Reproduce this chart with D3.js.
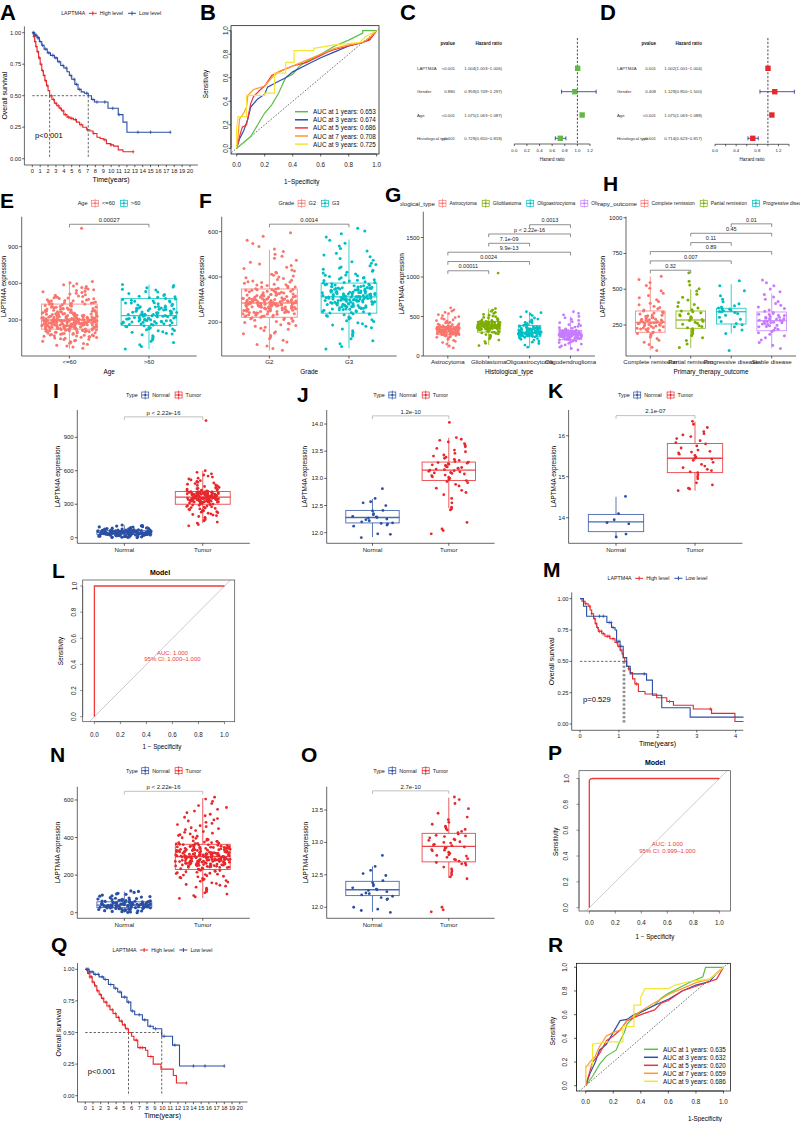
<!DOCTYPE html>
<html><head><meta charset="utf-8">
<script src="https://cdn.jsdelivr.net/npm/d3@7/dist/d3.min.js"></script>
<style>
html,body{margin:0;padding:0;background:#fff;}
svg{display:block;}
text{font-family:"Liberation Sans",Arial,Helvetica,sans-serif;}
</style></head>
<body><svg id="fig" width="800" height="1122" viewBox="0 0 800 1122"></svg>
<script>
// ================= DATA =================
// --- A: KM (years) ---
const kmA_high_t = [0,0.15,0.3,0.45,0.6,0.8,1.0,1.2,1.4,1.6,1.8,2.0,2.2,2.5,2.8,3.1,3.4,3.7,4.0,4.4,4.8,5.2,5.6,6.0,6.4,6.9,7.3,7.7,8.2,8.6,9.0,9.4,9.9,10.3,10.9,11.5,12.8];
const kmA_high_s = [1,0.97,0.93,0.89,0.85,0.80,0.75,0.70,0.66,0.62,0.58,0.54,0.50,0.47,0.44,0.42,0.40,0.38,0.35,0.33,0.32,0.31,0.29,0.27,0.25,0.23,0.22,0.20,0.17,0.16,0.15,0.12,0.11,0.10,0.07,0.055,0.055];
const kmA_high_c = [0.2,0.35,0.5,0.7,0.9,1.1,1.3,1.5,1.7,1.9,2.4,2.7,3.0,3.3,3.6,3.9,4.2,4.6,5.0,5.5,6.2,7.0,7.8,9.2,10.0,12.8];
const kmA_low_t = [0,0.3,0.6,0.9,1.2,1.5,1.9,2.3,2.8,3.2,3.6,4.0,4.4,4.7,5.0,5.4,5.8,6.2,6.6,7.1,7.5,7.9,9.6,10.9,11.5,12.0,17.5];
const kmA_low_s = [1,0.98,0.96,0.93,0.90,0.87,0.84,0.82,0.80,0.77,0.74,0.72,0.69,0.66,0.63,0.59,0.55,0.53,0.52,0.50,0.47,0.45,0.40,0.35,0.29,0.21,0.21];
const kmA_low_c = [0.1,0.2,0.4,0.5,0.7,0.8,1.0,1.3,1.7,2.1,2.6,3.0,3.4,3.9,4.3,4.9,5.3,5.6,6.0,6.9,7.7,8.2,9.2,10.2,11.0,13.4,15.0,17.5];
const kmA_medians = [2.2, 7.1];
// --- M: KM ---
const kmM_high_t = [0,0.05,0.13,0.21,0.26,0.30,0.35,0.39,0.43,0.47,0.56,0.64,0.77,0.90,0.97,1.03,1.08,1.11,1.15,1.20,1.25,1.29,1.35,1.41,1.50,1.67,1.97,2.23,2.40,2.91,3.38,3.98,4.2];
const kmM_high_s = [1,0.98,0.96,0.94,0.91,0.88,0.84,0.80,0.77,0.74,0.72,0.70,0.68,0.65,0.62,0.59,0.56,0.53,0.50,0.46,0.44,0.41,0.36,0.32,0.26,0.24,0.21,0.18,0.15,0.12,0.085,0.02,0.02];
const kmM_high_c = [0.15,0.25,0.3,0.38,0.42,0.45,0.5,0.55,0.6,0.7,0.75,0.85,0.95,1.0,1.05,1.25,1.45,2.3,3.35];
const kmM_low_t = [0,0.09,0.17,0.60,0.69,0.81,0.90,0.94,1.03,1.11,1.20,1.29,1.71,1.86,2.10,2.83,4.2];
const kmM_low_s = [1,0.94,0.86,0.86,0.81,0.77,0.75,0.66,0.62,0.53,0.46,0.40,0.35,0.23,0.13,0.055,0.055];
const kmM_low_c = [0.5,0.6,0.75,0.8,0.85,1.0,1.05,1.65];
const kmM_medians = [1.11, 1.15];
// --- Q: KM ---
const kmQ_high_t = [0,0.3,0.6,0.9,1.2,1.5,1.8,2.1,2.4,2.8,3.2,3.6,4.0,4.4,4.8,5.2,5.6,6.0,6.3,6.8,7.8,8.1,8.8,9.8,11.4,11.8,13.1];
const kmQ_high_s = [1,0.97,0.94,0.90,0.87,0.83,0.80,0.77,0.74,0.71,0.68,0.65,0.62,0.59,0.56,0.53,0.50,0.47,0.44,0.38,0.36,0.31,0.25,0.21,0.16,0.10,0.10];
const kmQ_high_c = [0.2,0.4,0.6,0.8,1.0,1.3,1.6,2.0,2.3,2.7,3.1,3.5,3.9,4.3,4.7,5.1,5.4,6.6,7.1,7.4,8.5,13.1];
const kmQ_low_t = [0,0.5,1.1,1.8,2.4,3.0,3.7,4.2,4.7,5.4,5.9,6.4,7.4,8.1,8.8,9.9,11.3,12.2,18.0];
const kmQ_low_s = [1,0.98,0.96,0.94,0.92,0.88,0.85,0.82,0.78,0.74,0.67,0.64,0.60,0.55,0.53,0.47,0.40,0.235,0.235];
const kmQ_low_c = [0.2,0.4,0.6,0.9,1.3,1.7,2.2,2.6,3.3,3.9,4.5,5.1,5.6,6.1,7.0,7.7,8.4,9.1,10.2,11.6,14.0,15.5,18.0];
const kmQ_medians = [5.6, 9.9];
const kmTicks20 = d3.range(0,21);
const kmGroupLabels = ["High level","Low level"];

// --- B: time ROC ---
const rocB_labels = ["AUC at 1 years: 0.653","AUC at 3 years: 0.674","AUC at 5 years: 0.686","AUC at 7 years: 0.708","AUC at 9 years: 0.725"];
const rocB_fpr = [
 [0,0.05,0.1,0.15,0.2,0.25,0.3,0.33,0.35,0.4,0.45,0.5,0.55,0.6,0.7,0.8,0.9,0.9,1],
 [0,0.02,0.05,0.08,0.1,0.15,0.2,0.22,0.3,0.35,0.4,0.5,0.6,0.7,0.8,0.9,0.95,1],
 [0,0.02,0.04,0.07,0.1,0.12,0.17,0.2,0.25,0.3,0.4,0.5,0.6,0.65,0.7,0.8,0.9,0.95,1],
 [0,0.01,0.02,0.05,0.07,0.08,0.12,0.2,0.25,0.3,0.4,0.5,0.6,0.7,0.8,0.9,0.95,1],
 [0,0,0.01,0.07,0.07,0.2,0.2,0.27,0.27,0.35,0.35,0.41,0.41,0.55,0.55,0.7,0.88,0.92,1]];
const rocB_tpr = [
 [0,0.05,0.1,0.2,0.3,0.37,0.47,0.55,0.6,0.63,0.7,0.74,0.77,0.8,0.87,0.92,0.98,1,1],
 [0,0.08,0.15,0.25,0.35,0.42,0.46,0.52,0.57,0.6,0.65,0.71,0.77,0.82,0.87,0.9,0.93,1],
 [0,0.1,0.18,0.2,0.38,0.44,0.5,0.53,0.62,0.65,0.7,0.73,0.79,0.82,0.84,0.87,0.9,0.92,1],
 [0,0.1,0.25,0.3,0.35,0.45,0.5,0.53,0.6,0.65,0.7,0.75,0.8,0.85,0.88,0.9,0.94,1],
 [0,0.17,0.27,0.27,0.45,0.45,0.47,0.47,0.64,0.64,0.73,0.73,0.83,0.83,0.85,0.88,0.9,0.95,1]];
// --- R: time ROC ---
const rocR_labels = ["AUC at 1 years: 0.635","AUC at 3 years: 0.632","AUC at 5 years: 0.620","AUC at 7 years: 0.659","AUC at 9 years: 0.686"];
const rocR_fpr = [
 [0,0.05,0.1,0.15,0.22,0.25,0.28,0.3,0.35,0.4,0.45,0.5,0.55,0.6,0.7,0.75,0.85,0.87,1],
 [0,0.03,0.07,0.1,0.15,0.2,0.25,0.3,0.35,0.4,0.5,0.6,0.7,0.8,0.9,0.95,1],
 [0,0.05,0.1,0.15,0.2,0.25,0.3,0.4,0.5,0.55,0.6,0.7,0.8,0.9,0.95,1],
 [0,0,0.03,0.07,0.1,0.15,0.2,0.25,0.3,0.4,0.5,0.6,0.7,0.8,0.9,1],
 [0,0,0.05,0.05,0.15,0.27,0.27,0.35,0.35,0.4,0.4,0.43,0.6,0.65,0.75,0.9,0.95,1]];
const rocR_tpr = [
 [0,0.08,0.18,0.25,0.3,0.38,0.45,0.52,0.58,0.62,0.65,0.68,0.74,0.78,0.84,0.87,0.92,1,1],
 [0,0.1,0.2,0.3,0.35,0.45,0.55,0.56,0.6,0.62,0.68,0.73,0.8,0.85,0.88,0.95,1],
 [0,0.2,0.27,0.38,0.42,0.47,0.55,0.6,0.64,0.7,0.72,0.8,0.84,0.88,0.9,1],
 [0,0.15,0.2,0.25,0.33,0.42,0.45,0.47,0.55,0.63,0.7,0.77,0.82,0.87,0.9,1],
 [0,0.17,0.17,0.35,0.37,0.37,0.5,0.5,0.68,0.68,0.75,0.82,0.82,0.85,0.88,0.9,0.95,1]];
const rocColors = ["#5cbf47","#2a4fae","#f0323c","#ff9a2a","#f4e535"];

// --- L / P: diagnostic ROC ---
const rocL_fpr = [0,0,1];
const rocL_tpr = [0,1,1];
const rocP_fpr = [0,0,0.01,0.03,1];
const rocP_tpr = [0,0.985,0.997,1,1];
const rocL_text = ["AUC: 1.000","95% CI: 1.000\u20131.000"];
const rocP_text = ["AUC: 1.000","95% CI: 0.999\u20131.000"];

// --- C / D: forest ---
const forestNames = ["LAPTM4A","Gender","Age","Histological type"];
const forestC_p  = ["<0.001","0.880","<0.001","<0.001"];
const forestC_hr = [1.004,0.959,1.075,0.729];
const forestC_lo = [1.003,0.749,1.063,0.650];
const forestC_hi = [1.006,1.297,1.087,0.818];
const forestD_p  = ["0.001","0.408","<0.001","<0.001"];
const forestD_hr = [1.002,1.129,1.075,0.714];
const forestD_lo = [1.001,0.850,1.063,0.623];
const forestD_hi = [1.004,1.500,1.088,0.817];

// --- E: Age ---
const catsE = ["<=60",">60"];
const statsE = [[65,225,300,430,615],[62,255,335,475,590]]; // whiskerLo,Q1,median,Q3,whiskerHi
const ptsE_le60 = [68,79,88,93,101,107,110,118,121,127,131,134,140,143,147,150,153,157,159,162,163,166,169,171,172,175,177,178,181,183,184,187,189,190,193,195,196,199,200,203,205,206,208,211,212,214,215,217,219,220,222,223,225,227,228,230,231,233,234,236,237,239,241,242,243,245,246,248,249,251,252,254,255,256,258,260,261,263,264,266,267,268,270,271,273,274,276,277,279,280,281,283,284,286,287,289,290,291,292,294,295,297,298,299,300,302,304,305,307,309,310,312,314,316,318,319,321,323,325,327,328,330,333,335,336,338,341,343,344,347,349,350,353,355,357,359,362,364,366,368,370,373,375,377,380,383,385,388,390,393,395,398,401,404,406,410,413,416,419,422,425,428,431,433,437,439,442,445,448,450,454,457,459,463,466,469,473,476,479,482,486,490,493,497,502,507,512,519,524,531,536,542,548,553,560,566,573,579,588,596,604,615,1050,
 296,312,275,338,259,301,322,244,287,351,268,309,233,294,378,255,317,282,340,226,303,266,392,248,289,327,271,356,238,306,279,415,262,298,333,251,285,372,219,310,293,347,240,276,321,264,405,229,300,287,336,253,316,273,362,245,291,328,270,441,235,305,281,345,258,297,318,212,284,367,249,302,277,331,265,458,223,292,313,286];
const ptsE_gt60 = [62,84,97,116,126,141,150,163,171,179,186,191,199,203,211,214,221,226,229,236,239,245,248,253,256,259,263,265,269,272,274,278,281,284,286,290,293,296,299,301,305,308,310,314,317,320,324,327,330,334,338,341,345,348,352,355,360,363,366,370,374,377,381,385,388,392,396,399,404,407,411,415,419,423,428,433,438,442,447,453,458,461,467,472,476,481,486,491,495,500,509,516,528,534,545,551,563,570,582,591,
 318,342,296,361,277,334,389,305,352,284,371,326,409,291,347,312,438,268,336,359,302,382,321,455,288,344,366,309,398,331];
// --- F: Grade ---
const catsF = ["G2","G3"];
const statsF = [[75,222,285,347,520],[85,240,312,373,565]];
const ptsF_G2 = [76,84,95,102,113,121,128,136,142,149,153,158,164,169,173,178,182,186,189,193,196,199,203,206,209,212,215,217,220,222,224,226,228,231,233,235,237,239,241,243,245,247,249,251,253,255,256,258,260,262,264,266,268,270,271,273,275,277,279,280,282,284,286,288,290,292,294,296,298,300,302,304,306,308,310,312,314,316,318,320,322,324,327,329,331,333,335,337,339,341,343,345,347,350,353,356,359,362,365,368,372,375,378,382,385,389,393,396,400,404,408,412,417,421,426,431,437,443,450,457,465,474,483,491,500,512,523,534,548,562,580,595,
 262,291,238,305,276,251,318,284,229,297,266,341,244,288,312,273,257,330,281,236,299,268,356,247,290,322,275,259,304,283,218,294,271,337,253,286,314,264,243,301,279,366,256,292,325,269,248,308,285,231,296,274,348,261,289,319,277,252,303,282,205,295,267,333,246,287,316,272,258,300,280,379,241,293,324,270,254,306,283,226,298,276,345,263,291,311,279,249,302,286];
const ptsF_G3 = [82,93,105,118,127,139,147,156,163,170,176,182,188,193,198,203,207,211,215,219,223,226,230,233,236,238,241,243,246,248,251,253,256,258,261,263,266,268,271,273,276,278,281,283,286,288,291,293,296,298,301,303,306,308,310,312,314,316,318,320,322,325,327,329,331,333,336,338,340,342,345,347,349,351,354,356,358,361,363,365,368,370,373,376,379,382,385,388,391,395,398,402,405,409,413,417,421,425,430,434,439,444,449,455,461,467,474,481,489,497,505,515,526,537,549,562,576,591,603,615,
 289,318,264,334,301,277,352,311,255,326,296,368,282,315,341,299,270,357,308,285,329,293,384,274,320,346,303,262,337,311,248,323,297,361,280,316,343,294,268,331,306,396,276,319,350,300,259,339,313,287,325,304,375,283,317,347,298,271,334,309,236,322,292,358,279,314,344,296,265,330,305,407,273,318,349,301,257,336,312,289,327,303,366,284,315,353,297,269,332,308];
// --- G: Histological type ---
const catsG = ["Astrocytoma","Glioblastoma","Oligoastrocytoma","Oligodendroglioma"];
const statsG = [[100,270,332,374,530],[140,303,383,437,600],[110,248,299,387,560],[75,207,270,324,500]];
const ptsG_astro = [102,128,151,170,186,199,210,219,228,236,242,248,253,258,262,266,269,272,275,278,281,284,287,290,293,296,299,302,305,308,311,314,317,320,323,326,329,331,333,335,337,339,341,343,345,347,349,351,353,355,357,359,361,363,365,367,369,371,373,376,380,384,388,392,397,402,407,413,419,425,432,440,448,457,466,476,487,498,510,523,537,552,568,585,610,
 318,341,297,356,325,284,362,331,306,349,290,337,368,312,279,345,322,358,301,334,287,352,316,340,295,363,327,304,348,282,333,359,310,343,293,326,355,319,300,338,286,347,323,361,308,330,296,351,314,344];
const ptsG_glio = [132,160,183,202,218,231,243,254,263,271,279,286,292,298,302,306,310,314,318,322,326,330,334,338,342,346,350,354,358,362,366,370,374,378,381,384,387,390,393,396,399,402,405,408,411,414,417,420,423,426,429,432,435,437,441,446,451,456,462,468,474,481,489,497,506,516,527,539,552,566,582,600,1050,
 368,392,347,405,381,356,418,374,339,396,385,362,427,378,351,409,388,366,432,371,344,400,383,359,415,376,352,393,386,364,421,373,348,403,390,361,429,377,355,398,384,367,412,370,342,395,387,358,424,380];
const ptsG_oligoastro = [112,138,158,175,189,201,212,221,229,236,242,247,251,255,259,263,267,271,275,279,283,287,291,295,298,301,305,309,313,317,321,326,331,336,341,346,351,356,361,366,371,376,381,386,391,397,403,410,418,426,435,445,456,468,481,496,512,530,548,560,
 286,312,268,337,295,275,351,306,261,324,290,279,368,301,257,342,298,272,316,288,264,357,303,281,329,293,270,346,309,284,255,333,297,277,362,305,266,321,291,274];
const ptsG_oligodendro = [76,95,112,127,140,151,161,170,178,185,191,197,202,206,209,212,216,219,223,226,230,233,237,240,244,247,251,254,258,261,265,268,271,274,277,280,283,286,289,292,295,298,301,304,307,310,313,316,319,322,326,331,337,343,350,358,366,375,385,396,408,421,435,450,466,483,501,520,540,560,
 262,281,243,296,268,251,305,274,236,288,259,247,311,270,229,292,264,255,318,277,240,285,261,249,300,272,233,290,266,253,314,279,238,283,258,245,307,268,226,294,263,250,320,275,241,287,260,248,303,271];
// --- H: Primary therapy outcome ---
const catsH = ["Complete remission","Partial remission","Progressive disease","Stable disease"];
const statsH = [[72,199,269,348,590],[90,227,285,348,500],[190,257,343,367,535],[88,210,280,341,470]];
const ptsH_cr = [72,95,114,130,144,156,166,175,183,190,196,201,207,213,219,225,231,237,243,249,255,261,265,268,271,275,280,285,290,296,302,308,314,320,327,334,341,347,355,363,372,381,391,402,414,427,441,456,472,489,507,526,547,568,590,
 258,283,231,301,266,245,318,274,222,290,262,336,241,279,305,253,287,227,268,311];
const ptsH_pr = [92,118,141,160,177,191,203,214,223,231,239,247,255,262,269,276,282,288,294,300,307,314,321,328,335,342,348,357,368,380,393,408,425,444,465,488,503,530,555,615];
const ptsH_pd = [72,190,215,238,252,260,275,290,305,318,330,338,342,345,350,355,360,364,368,375,385,398,412,430,455,490,525,560];
const ptsH_sd = [86,108,128,146,161,174,186,196,205,213,221,229,237,245,253,261,268,274,279,283,288,293,298,304,310,317,324,331,338,346,355,365,376,388,401,415,430,446,463,482,502,524,546,565,
 266,292,248,304,275,257,318,283,239,297,270,325];
// --- I/J/K/N/O: Normal vs Tumor ---
const catsNT = ["Normal","Tumor"];
const statsI = [[0,30,48,63,112],[130,300,363,414,600]];
const ptsI_normal = [1,3,4,6,8,9,11,12,14,15,16,18,19,20,21,22,23,24,25,26,26,27,28,29,30,30,31,32,33,33,34,35,35,36,37,37,38,39,39,40,41,41,42,42,43,44,44,45,45,46,47,47,48,48,49,49,50,51,51,52,52,53,54,54,55,56,56,57,58,58,59,60,61,61,62,63,64,65,66,67,68,69,70,71,73,74,76,78,80,82,85,88,91,95,99,104,109,114,2,7,13,17,24,29,34,38,43,46,50,53,57,62,66,72,79,87,97,107,36,44,51,59,31,48];
const ptsI_tumor = [106,118,131,140,152,160,168,176,183,190,197,203,208,214,219,224,229,233,238,242,246,250,254,258,262,266,270,273,277,280,284,287,290,293,296,299,301,303,305,307,310,312,314,316,318,320,322,324,326,328,330,332,334,336,338,340,342,344,346,348,350,352,354,356,358,360,362,364,366,368,370,372,374,376,378,380,382,384,386,388,390,392,394,396,398,400,402,404,406,408,410,412,414,417,420,423,426,429,432,436,439,443,447,451,455,459,464,469,474,479,485,491,497,504,511,518,526,534,543,552,562,573,586,600,1050,
 352,378,331,396,365,342,407,359,318,385,348,372,337,401,362,326,389,355,343,410,368,334,381,351,322,394,361,346,375,339,403,357,329,387,364,349,412,371,336,383,356,324,398,367,344,379,353,331,405,362,340,388,358,327,392,369,347,376,335,400];
const statsJ = [[11.92,12.18,12.28,12.41,12.62],[12.45,12.96,13.15,13.30,13.75]];
const ptsJ_normal = [12.81,12.63,12.57,12.55,12.50,12.41,12.40,12.35,12.33,12.30,12.29,12.28,12.27,12.25,12.24,12.22,12.20,12.18,12.17,12.16,12.14,12.12,11.98,11.97,11.91];
const ptsJ_tumor = [11.98,12.04,12.07,12.19,12.42,12.44,12.47,12.55,12.63,12.70,12.74,12.78,12.82,12.86,12.89,12.92,12.94,12.96,12.98,13.00,13.02,13.03,13.05,13.06,13.08,13.09,13.10,13.11,13.12,13.13,13.14,13.15,13.16,13.17,13.18,13.19,13.20,13.21,13.22,13.23,13.24,13.25,13.26,13.27,13.28,13.29,13.30,13.31,13.33,13.35,13.37,13.39,13.41,13.43,13.46,13.49,13.52,13.55,13.58,13.61,13.64,13.67,13.70,13.72,13.75,14.03];
const statsK = [[13.55,13.66,13.90,14.08,14.51],[14.66,15.10,15.45,15.81,16.34]];
const ptsK_normal = [14.52,14.10,13.95,13.88,13.85,13.60,13.53];
const ptsK_tumor = [14.66,14.70,14.72,14.80,14.85,14.95,15.00,15.05,15.10,15.12,15.15,15.18,15.22,15.26,15.30,15.35,15.40,15.43,15.45,15.48,15.52,15.55,15.58,15.60,15.62,15.65,15.70,15.75,15.80,15.83,15.88,15.93,15.98,16.02,16.05,16.10,16.20,16.28,16.35];
const statsN = [[0,27,40,58,112],[77,230,299,364,610]];
const ptsN_normal = [0,2,5,7,9,10,12,14,15,17,18,19,21,22,23,24,25,26,27,28,28,29,30,31,31,32,33,34,34,35,36,36,37,38,38,39,39,40,41,41,42,42,43,43,44,45,45,46,47,47,48,49,49,50,51,52,53,54,55,56,57,58,59,60,61,62,63,64,66,67,69,71,73,75,77,80,83,86,90,94,98,103,108,113,116,4,11,16,20,26,30,35,40,44,48,52,58,65,70,78,88,100,33,39,46,54];
const ptsN_tumor = [76,84,91,99,106,112,119,124,130,136,141,146,150,155,159,163,167,171,175,178,182,185,188,191,194,197,200,203,205,208,210,213,215,218,220,222,224,226,228,230,232,234,236,238,240,242,243,245,247,249,250,252,254,255,257,259,260,262,264,265,267,269,270,272,273,275,277,278,280,281,283,285,286,288,289,291,292,294,296,297,299,300,302,304,305,307,309,310,312,314,315,317,319,320,322,324,326,327,329,331,333,335,336,338,340,342,344,346,348,350,352,354,356,358,360,362,364,367,370,373,376,379,382,385,389,392,396,399,403,407,411,415,419,423,428,432,437,442,447,452,458,463,469,475,481,488,494,501,508,516,524,532,541,550,560,570,581,593,605,615,
 288,315,262,331,297,276,344,305,251,322,283,359,268,311,294,338,279,246,326,301,271,352,289,318,260,335,296,274,347,308,255,329,285,366,266,313,299,241,340,281,320,292,373,263,306,278,349,297,257,324,286,312,269,343,301,248,331,284,361,274,316,293,253,337,289,380,266,309,282,344,298,259,321,287,354,272,314,295,243,335,280,305,262,347,291,318,276,328,256,339,284,302,269,357,293,311,279,249,325,288,342,273,307,296,264,333,282,369,297,313];
const statsO = [[11.93,12.18,12.27,12.40,12.63],[12.45,12.70,12.94,13.14,13.69]];
const ptsO_normal = [12.80,12.63,12.57,12.52,12.49,12.41,12.38,12.35,12.33,12.30,12.28,12.27,12.26,12.24,12.22,12.21,12.19,12.17,12.15,12.13,12.12,12.00,11.97,11.92,11.95];
const ptsO_tumor = [11.93,11.96,12.00,12.44,12.47,12.50,12.53,12.56,12.59,12.62,12.65,12.67,12.69,12.71,12.73,12.75,12.77,12.79,12.81,12.83,12.85,12.87,12.89,12.91,12.93,12.95,12.97,12.99,13.01,13.03,13.05,13.07,13.09,13.11,13.13,13.15,13.17,13.19,13.21,13.23,13.25,13.28,13.31,13.35,13.39,13.45,13.52,13.60,13.66,13.70,12.88,12.92,12.96,13.00,13.04,13.10,12.74,12.80,12.68,13.20];

// ================= DRAWING =================
const svg = d3.select("#fig");
svg.append("rect").attr("width",800).attr("height",1122).attr("fill","#fff");
const RED = "#e8272b", BLUE = "#2a4fa3";
const GG2 = ["#F8766D","#00BFC4"], GG4 = ["#F8766D","#7CAE00","#00BFC4","#C77CFF"];

function T(g,x,y,s,o={}){
  const t=g.append("text").attr("x",x).attr("y",y).text(s)
    .attr("font-size",o.size||6).attr("fill",o.fill||"#1a1a1a")
    .attr("text-anchor",o.anchor||"middle").attr("dominant-baseline",o.base||"central");
  if(o.weight) t.attr("font-weight",o.weight);
  if(o.rotate) t.attr("transform",`rotate(${o.rotate},${x},${y})`);
  return t;
}
function spread(k,j){ // deterministic horizontal jitter layout for points
  const s=Math.sin((j+1)*12.9898+(k+1)*78.233)*43758.5453; return (s-Math.floor(s))*2-1;
}
function label(letter,x,y,size){ T(svg,x,y,letter,{size:size||21,weight:"bold",anchor:"start",base:"auto",fill:"#000"}); }

function legend(g,o){
  const lg=g.append("g");
  const size=o.size||5.4;
  const tt=T(lg,0,o.y,o.title,{size:o.titleSize||size,anchor:"start"});
  const tw=tt.node().getComputedTextLength();
  let cur=tw+4;
  o.labels.forEach((lab,i)=>{
    const gx=cur+3.5, c=o.colors[i];
    if(o.glyph==="km"){
      lg.append("line").attr("x1",gx-4).attr("x2",gx+4).attr("y1",o.y).attr("y2",o.y).attr("stroke",c).attr("stroke-width",1);
      lg.append("line").attr("x1",gx).attr("x2",gx).attr("y1",o.y-2).attr("y2",o.y+2).attr("stroke",c).attr("stroke-width",1);
    } else {
      lg.append("rect").attr("x",gx-3.5).attr("y",o.y-3).attr("width",7).attr("height",6).attr("fill","#fff").attr("stroke",c).attr("stroke-width",0.7);
      lg.append("line").attr("x1",gx-3.5).attr("x2",gx+3.5).attr("y1",o.y).attr("y2",o.y).attr("stroke",c).attr("stroke-width",0.9);
      lg.append("line").attr("x1",gx).attr("x2",gx).attr("y1",o.y-4.5).attr("y2",o.y+4.5).attr("stroke",c).attr("stroke-width",0.7);
      lg.append("circle").attr("cx",gx).attr("cy",o.y).attr("r",1).attr("fill",c);
    }
    cur+=7+3.5;
    const t=T(lg,cur,o.y,lab,{size,anchor:"start"});
    cur+=t.node().getComputedTextLength()+5.5;
  });
  const total=cur-5.5;
  const shift=(o.titleEnd!=null)?o.titleEnd-tw:o.cx-total/2;
  lg.attr("transform",`translate(${shift},0)`);
  return lg;
}

function boxPanel(o){
  const g=svg.append("g");
  const x=d3.scalePoint().domain(o.cats).range([o.x0,o.x1]).padding(0.6);
  const step=x.step();
  const y=d3.scaleLinear().domain(o.yDom).range([o.yBot,o.yTop]);
  const bw=o.bw*step;
  o.cats.forEach((c,i)=>{
    const s=o.stats[i], cx=x(c), col=o.colors[i];
    const bg=g.append("g").attr("stroke",col).attr("stroke-width",0.9).attr("stroke-opacity",0.85);
    bg.append("line").attr("x1",cx).attr("x2",cx).attr("y1",y(s[0])).attr("y2",y(s[1]));
    bg.append("line").attr("x1",cx).attr("x2",cx).attr("y1",y(s[3])).attr("y2",y(s[4]));
    bg.append("rect").attr("x",cx-bw/2).attr("width",bw).attr("y",y(s[3])).attr("height",y(s[1])-y(s[3])).attr("fill","#fff");
    bg.append("line").attr("x1",cx-bw/2).attr("x2",cx+bw/2).attr("y1",y(s[2])).attr("y2",y(s[2])).attr("stroke-width",1.3);
  });
  o.cats.forEach((c,i)=>{
    const cx=x(c), jw=(Array.isArray(o.jw)?o.jw[i]:o.jw)*step;
    const r=Array.isArray(o.r)?o.r[i]:o.r;
    g.append("g").attr("fill",o.colors[i]).selectAll("circle").data(o.pts[i]).join("circle")
      .attr("cx",(d,j)=>cx+spread(i,j)*jw).attr("cy",d=>y(d)).attr("r",r);
  });
  const ax=g.append("g").attr("stroke","#000").attr("stroke-width",0.6);
  ax.append("line").attr("x1",o.x0).attr("x2",o.x0).attr("y1",o.yTop).attr("y2",o.yBot);
  ax.append("line").attr("x1",o.x0).attr("x2",o.x1).attr("y1",o.yBot).attr("y2",o.yBot);
  const fmt=o.fmt||(d=>d);
  o.ticks.forEach(t=>{
    ax.append("line").attr("x1",o.x0-2.5).attr("x2",o.x0).attr("y1",y(t)).attr("y2",y(t));
    T(g,o.x0-3.6,y(t),fmt(t),{anchor:"end",size:6,fill:"#222"});
  });
  o.cats.forEach(c=>{
    ax.append("line").attr("x1",x(c)).attr("x2",x(c)).attr("y1",o.yBot).attr("y2",o.yBot+2.5);
    T(g,x(c),o.catY,c,{size:6.1,fill:"#222"});
  });
  T(g,o.yTitleX,(o.yTop+o.yBot)/2,"LAPTM4A expression",{size:6.4,rotate:-90,fill:"#000"});
  if(o.xTitle) T(g,(o.x0+o.x1)/2,o.xTitleY,o.xTitle,{size:6.4,fill:"#000"});
  (o.brackets||[]).forEach(b=>{
    const yb=y(b.v), xa=x(o.cats[b.a]), xb=x(o.cats[b.b]);
    g.append("path").attr("d",`M${xa},${yb+3.2}V${yb}H${xb}V${yb+3.2}`).attr("fill","none")
      .attr("stroke",o.brColor||"#444").attr("stroke-width",0.6);
    T(g,(xa+xb)/2,yb-4.3,b.label,{size:o.brSize||5.8,fill:"#222"});
  });
  return {g,x,y};
}

function stepAt(t,ts,ss){ let v=ss[0]; for(let i=0;i<ts.length;i++){ if(ts[i]<=t) v=ss[i]; } return v; }

function kmPanel(o){
  const g=svg.append("g");
  const x=d3.scaleLinear().domain(o.tDom).range([o.x0,o.x1]);
  const y=d3.scaleLinear().domain([-0.05,1.05]).range([o.yBot,o.yTop]);
  const dash=g.append("g").attr("stroke","#000").attr("stroke-width",0.6).attr("stroke-dasharray","2.4,1.8");
  dash.append("line").attr("x1",x(0)).attr("x2",x(d3.max(o.medians))).attr("y1",y(0.5)).attr("y2",y(0.5));
  o.medians.forEach(m=>dash.append("line").attr("x1",x(m)).attr("x2",x(m)).attr("y1",y(0.5)).attr("y2",y(0)));
  const line=d3.line().x(d=>x(d[0])).y(d=>y(d[1])).curve(d3.curveStepAfter);
  o.groups.forEach(gr=>{
    g.append("path").attr("d",line(gr.t.map((t,i)=>[t,gr.s[i]]))).attr("fill","none").attr("stroke",gr.color).attr("stroke-width",1.1);
    const cg=g.append("g").attr("stroke",gr.color).attr("stroke-width",0.7);
    gr.c.forEach(ct=>{
      const cx=x(ct), cy=y(stepAt(ct,gr.t,gr.s));
      cg.append("line").attr("x1",cx).attr("x2",cx).attr("y1",cy-1.8).attr("y2",cy+1.8);
      cg.append("line").attr("x1",cx-1.3).attr("x2",cx+1.3).attr("y1",cy).attr("y2",cy);
    });
  });
  const ax=g.append("g").attr("stroke","#000").attr("stroke-width",0.6);
  ax.append("line").attr("x1",o.x0).attr("x2",o.x0).attr("y1",o.yTop).attr("y2",o.yBot);
  ax.append("line").attr("x1",o.x0).attr("x2",o.x1).attr("y1",o.yBot).attr("y2",o.yBot);
  [0,0.25,0.5,0.75,1].forEach(v=>{
    ax.append("line").attr("x1",o.x0-2.2).attr("x2",o.x0).attr("y1",y(v)).attr("y2",y(v));
    T(g,o.x0-3.2,y(v),d3.format(".2f")(v),{anchor:"end",size:5.7,fill:"#222"});
  });
  o.xticks.forEach(v=>{
    ax.append("line").attr("x1",x(v)).attr("x2",x(v)).attr("y1",o.yBot).attr("y2",o.yBot+2.2);
    T(g,x(v),o.yBot+5.6,String(v),{size:5.7,fill:"#222"});
  });
  T(g,(o.x0+o.x1)/2,o.xTitleY,"Time(years)",{size:7,fill:"#000"});
  T(g,o.yTitleX,(o.yTop+o.yBot)/2,"Overall survival",{size:7,rotate:-90,fill:"#000"});
  T(g,o.pX,o.pY,o.pText,{size:7.6,anchor:"start",fill:"#000"});
  legend(g,{cx:(o.x0+o.x1)/2,y:o.legY,title:"LAPTM4A",labels:kmGroupLabels,colors:[RED,BLUE],glyph:"km",size:5.3});
}

function rocBase(o){
  const g=svg.append("g");
  const x=d3.scaleLinear().domain([0,1]).range([o.px0,o.px1]);
  const y=d3.scaleLinear().domain([0,1]).range([o.py0,o.py1]);
  const cid="clip"+o.id;
  svg.append("clipPath").attr("id",cid).append("rect").attr("x",o.bx0).attr("y",o.by0).attr("width",o.bx1-o.bx0).attr("height",o.by1-o.by0);
  const inner=g.append("g").attr("clip-path",`url(#${cid})`);
  inner.append("line").attr("x1",x(-1)).attr("y1",y(-1)).attr("x2",x(2)).attr("y2",y(2))
    .attr("stroke",o.diagColor).attr("stroke-width",o.diagW).attr("stroke-dasharray",o.diagDash||null);
  const line=d3.line().x(d=>x(d[0])).y(d=>y(d[1]));
  o.curves.forEach((c,i)=>{
    g.append("path").attr("d",line(c.fpr.map((f,j)=>[f,c.tpr[j]]))).attr("fill","none")
      .attr("stroke",c.color).attr("stroke-width",o.curveW||1.2);
  });
  g.append("rect").attr("x",o.bx0).attr("y",o.by0).attr("width",o.bx1-o.bx0).attr("height",o.by1-o.by0)
    .attr("fill","none").attr("stroke",o.boxColor).attr("stroke-width",0.7);
  const ax=g.append("g").attr("stroke",o.boxColor).attr("stroke-width",0.6);
  const tv=[0,0.2,0.4,0.6,0.8,1.0];
  ax.append("line").attr("x1",x(0)).attr("x2",x(1)).attr("y1",o.by1).attr("y2",o.by1);
  ax.append("line").attr("x1",o.bx0).attr("x2",o.bx0).attr("y1",y(0)).attr("y2",y(1));
  tv.forEach(v=>{
    ax.append("line").attr("x1",x(v)).attr("x2",x(v)).attr("y1",o.by1).attr("y2",o.by1+2.5);
    T(g,x(v),o.xLabY,v.toFixed(1),{size:o.tickSize||6.3,fill:"#222"});
    ax.append("line").attr("x1",o.bx0-2.5).attr("x2",o.bx0).attr("y1",y(v)).attr("y2",y(v));
    T(g,o.yLabX,y(v),v.toFixed(1),{size:o.tickSize||6.3,fill:"#222",rotate:-90});
  });
  T(g,o.xTitle[1],o.xTitle[2],o.xTitle[0],{size:6.3,fill:"#000"});
  T(g,o.yTitle[0],o.yTitle[1],"Sensitivity",{size:6.3,fill:"#000",rotate:-90});
  if(o.title) T(g,o.title[1],o.title[2],o.title[0],{size:7,weight:"bold",fill:"#000"});
  if(o.auc){ o.auc.text.forEach((s,i)=>T(g,x(o.auc.x),y(o.auc.y[i]),s,{size:6,fill:o.auc.color})); }
  if(o.legend){
    o.legend.labels.forEach((s,i)=>{
      const yy=o.legend.y0+i*o.legend.dy;
      g.append("line").attr("x1",o.legend.lx0).attr("x2",o.legend.lx1).attr("y1",yy).attr("y2",yy).attr("stroke",o.curves[i].color).attr("stroke-width",1.5);
      T(g,o.legend.tx,yy,s,{size:6.4,anchor:"start",fill:"#111"});
    });
  }
}

function forest(o){
  const g=svg.append("g");
  const x=d3.scaleLinear().domain([0,1]).range([o.ax0,o.ax0+o.ppu]);
  T(g,o.pvx,o.headY,"pvalue",{anchor:"end",size:4.6,weight:"bold",fill:"#222"});
  T(g,o.hrx,o.headY,"Hazard ratio",{anchor:"end",size:4.6,weight:"bold",fill:"#222"});
  g.append("line").attr("x1",x(1)).attr("x2",x(1)).attr("y1",o.dashTop).attr("y2",o.axisY)
    .attr("stroke","#000").attr("stroke-width",0.7).attr("stroke-dasharray","2.2,1.6");
  forestNames.forEach((n,i)=>{
    const yy=o.rows[i];
    T(g,o.nx,yy,n,{anchor:"start",size:4.3,fill:"#333"});
    T(g,o.pvx,yy,o.pv[i],{anchor:"end",size:4.3,fill:"#333"});
    T(g,o.hrx,yy,`${o.hr[i].toFixed(3)}(${o.lo[i].toFixed(3)}\u2212${o.hi[i].toFixed(3)})`,{anchor:"end",size:4.3,fill:"#333"});
    const cg=g.append("g").attr("stroke","#1f2a8c").attr("stroke-width",0.8);
    cg.append("line").attr("x1",x(o.lo[i])).attr("x2",x(o.hi[i])).attr("y1",yy).attr("y2",yy);
    cg.append("line").attr("x1",x(o.lo[i])).attr("x2",x(o.lo[i])).attr("y1",yy-2).attr("y2",yy+2);
    cg.append("line").attr("x1",x(o.hi[i])).attr("x2",x(o.hi[i])).attr("y1",yy-2).attr("y2",yy+2);
    g.append("rect").attr("x",x(o.hr[i])-2.7).attr("y",yy-2.7).attr("width",5.4).attr("height",5.4).attr("fill",o.color);
  });
  const ax=g.append("g").attr("stroke","#000").attr("stroke-width",0.6);
  ax.append("line").attr("x1",x(0)).attr("x2",x(o.max)).attr("y1",o.axisY).attr("y2",o.axisY);
  o.ticks.forEach(v=>{
    ax.append("line").attr("x1",x(v)).attr("x2",x(v)).attr("y1",o.axisY).attr("y2",o.axisY+2);
  });
  o.labels.forEach(v=>T(g,x(v),o.axisY+6.5,v.toFixed(1),{size:4.3,fill:"#222"}));
  T(g,(x(0)+x(o.max))/2,159,"Hazard ratio",{size:4.6,fill:"#222"});
}

// ---------- A ----------
kmPanel({x0:24.4,x1:197.9,tDom:[-1,21],yTop:26.4,yBot:165,xticks:kmTicks20,medians:kmA_medians,
  groups:[{t:kmA_high_t,s:kmA_high_s,c:kmA_high_c,color:RED},{t:kmA_low_t,s:kmA_low_s,c:kmA_low_c,color:BLUE}],
  xTitleY:179,yTitleX:5,pX:35,pY:135,pText:"p<0.001",legY:13.3});
// ---------- B ----------
rocBase({id:"B",bx0:231,bx1:379,by0:25.7,by1:154,px0:236.7,px1:376.7,py0:148.3,py1:30.7,
  diagColor:"#333",diagW:0.7,diagDash:"1.6,1.6",boxColor:"#000",
  curves:rocB_fpr.map((f,i)=>({fpr:f,tpr:rocB_tpr[i],color:rocColors[i]})),
  xLabY:164,yLabX:226,xTitle:["1\u2212Specificity",301.7,181],yTitle:[205,84],
  legend:{labels:rocB_labels,y0:111.7,dy:8.1,lx0:295,lx1:308,tx:313}});
// ---------- C, D ----------
forest({nx:417,pvx:455,hrx:502,headY:43,rows:[68.3,91.7,115,138.3],ax0:514.3,ppu:63.1,max:1.2,
  ticks:[0,0.2,0.4,0.6,0.8,1.0,1.2],labels:[0,0.2,0.4,0.6,0.8,1.0,1.2],axisY:144,dashTop:38,
  pv:forestC_p,hr:forestC_hr,lo:forestC_lo,hi:forestC_hi,color:"#62b845"});
forest({nx:617,pvx:656,hrx:702,headY:43,rows:[68.3,91.7,115,138.3],ax0:715,ppu:52.9,max:1.4,
  ticks:[0,0.2,0.4,0.6,0.8,1.0,1.2,1.4],labels:[0,0.4,0.8,1.2],axisY:144.3,dashTop:38,
  pv:forestD_p,hr:forestD_hr,lo:forestD_lo,hi:forestD_hi,color:"#e8272b"});

// ---------- E ----------
const pE=boxPanel({cats:catsE,x0:21.7,x1:196.7,yTop:216.7,yBot:356,yDom:[5.4,1145],ticks:[300,600,900],
  stats:statsE,pts:[ptsE_le60,ptsE_gt60],colors:GG2,bw:0.7,jw:0.35,r:1.5,catY:361.7,yTitleX:4,
  xTitle:"Age",xTitleY:371,brackets:[{a:0,b:1,v:1083,label:"0.00027"}]});
legend(pE.g,{cx:109,y:203.3,title:"Age",labels:catsE,colors:GG2,size:5.6});
// ---------- F ----------
const pF=boxPanel({cats:catsF,x0:221.7,x1:396.7,yTop:216.7,yBot:356,yDom:[51,666],ticks:[200,400,600],
  stats:statsF,pts:[ptsF_G2,ptsF_G3],colors:GG2,bw:0.7,jw:0.34,r:1.5,catY:361.7,yTitleX:201.7,
  xTitle:"Grade",xTitleY:371,brackets:[{a:0,b:1,v:633,label:"0.0014"}]});
legend(pF.g,{cx:309,y:203.3,title:"Grade",labels:catsF,colors:GG2,size:5.6});
// ---------- G ----------
const pG=boxPanel({cats:catsG,x0:423.3,x1:595,yTop:211.7,yBot:356,yDom:[0,1827],ticks:[0,500,1000,1500],
  stats:statsG,pts:[ptsG_astro,ptsG_glio,ptsG_oligoastro,ptsG_oligodendro],colors:GG4,bw:0.55,jw:0.28,r:1.4,catY:361.7,yTitleX:402,
  xTitle:"Histological_type",xTitleY:371,brSize:5.5,
  brackets:[{a:0,b:1,v:1079,label:"0.00011"},{a:0,b:2,v:1196,label:"0.0024"},{a:0,b:3,v:1314,label:"9.9e-13"},
            {a:1,b:2,v:1427,label:"7.1e-09"},{a:1,b:3,v:1545,label:"p < 2.22e-16"},{a:2,b:3,v:1662,label:"0.0013"}]});
svg.append("clipPath").attr("id","clipGleg").append("rect").attr("x",400).attr("y",190).attr("width",198).attr("height",20);
const gLeg=svg.append("g").attr("clip-path","url(#clipGleg)");
legend(gLeg,{titleEnd:435,y:203.3,title:"Histological_type",titleSize:6.2,labels:catsG,colors:GG4,size:4.9});
// ---------- H ----------
svg.append("clipPath").attr("id","clipHleg").append("rect").attr("x",598).attr("y",190).attr("width",202).attr("height",20);
svg.append("rect").attr("x",598).attr("y",196).attr("width",202).attr("height",14).attr("fill","#fff");
const hLeg=svg.append("g").attr("clip-path","url(#clipHleg)");
legend(hLeg,{titleEnd:637,y:203.3,title:"Primary_therapy_outcome",titleSize:6.2,labels:catsH,colors:GG4,size:4.9});
boxPanel({cats:catsH,x0:626,x1:796,yTop:216.7,yBot:356,yDom:[33.3,1007],ticks:[250,500,750,1000],
  stats:statsH,pts:[ptsH_cr,ptsH_pr,ptsH_pd,ptsH_sd],colors:GG4,bw:0.73,jw:0.33,r:1.5,catY:361.7,yTitleX:602.3,
  xTitle:"Primary_therapy_outcome",xTitleY:371,brSize:5.5,
  brackets:[{a:0,b:1,v:633,label:"0.32"},{a:0,b:2,v:698,label:"0.007"},{a:0,b:3,v:763,label:"0.89"},
            {a:1,b:2,v:826,label:"0.11"},{a:1,b:3,v:891,label:"0.45"},{a:2,b:3,v:957,label:"0.01"}]});

// ---------- I, J, K ----------
const NTcol=[BLUE,RED];
const pI=boxPanel({cats:catsNT,x0:77.3,x1:249.8,yTop:410,yBot:543.3,yDom:[-50.2,1144.7],ticks:[0,300,600,900],
  stats:statsI,pts:[ptsI_normal,ptsI_tumor],colors:NTcol,bw:0.7,jw:[0.34,0.21],r:[1.6,1.4],catY:549,yTitleX:57.3,
  brColor:"#999",brSize:6,brackets:[{a:0,b:1,v:1083,label:"p < 2.22e-16"}]});
legend(pI.g,{cx:163.5,y:395,title:"Type",labels:catsNT,colors:NTcol,size:5.4});
const pJ=boxPanel({cats:catsNT,x0:326.7,x1:494.6,yTop:410,yBot:543.3,yDom:[11.805,14.258],ticks:[12,12.5,13,13.5,14],fmt:d3.format(".1f"),
  stats:statsJ,pts:[ptsJ_normal,ptsJ_tumor],colors:NTcol,bw:0.7,jw:0.27,r:1.4,catY:549,yTitleX:305,
  brColor:"#999",brSize:6,brackets:[{a:0,b:1,v:14.15,label:"1.2e-10"}]});
legend(pJ.g,{cx:410.6,y:395,title:"Type",labels:catsNT,colors:NTcol,size:5.4});
const pK=boxPanel({cats:catsNT,x0:568.6,x1:742.4,yTop:410,yBot:543.3,yDom:[13.376,16.627],ticks:[14,15,16],
  stats:statsK,pts:[ptsK_normal,ptsK_tumor],colors:NTcol,bw:0.7,jw:0.25,r:1.4,catY:549,yTitleX:553.6,
  brColor:"#999",brSize:6,brackets:[{a:0,b:1,v:16.49,label:"2.1e-07"}]});
legend(pK.g,{cx:655.5,y:395,title:"Type",labels:catsNT,colors:NTcol,size:5.4});

// ---------- L ----------
rocBase({id:"L",bx0:82.7,bx1:234.7,by0:580,by1:721.7,px0:94.4,px1:224.5,py0:716.7,py1:586,
  diagColor:"#aaa",diagW:0.6,boxColor:"#444",curveW:1.3,
  curves:[{fpr:rocL_fpr,tpr:rocL_tpr,color:"#ee3a3a"}],
  xLabY:734.3,yLabX:74,xTitle:["1 \u2212 Specificity",162,746],yTitle:[60,651],title:["Model",160,572.3],
  auc:{text:rocL_text,x:0.6,y:[0.49,0.44],color:"#ee3a3a"}});
// ---------- M ----------
kmPanel({x0:571.7,x1:743.3,tDom:[-0.213,4.195],yTop:592.4,yBot:730.3,xticks:[0,1,2,3,4],medians:kmM_medians,
  groups:[{t:kmM_high_t,s:kmM_high_s,c:kmM_high_c,color:RED},{t:kmM_low_t,s:kmM_low_s,c:kmM_low_c,color:BLUE}],
  xTitleY:743.3,yTitleX:551.7,pX:583,pY:699.3,pText:"p=0.529",legY:578.3});

// ---------- N, O ----------
const pN=boxPanel({cats:catsNT,x0:77.3,x1:249.8,yTop:786.7,yBot:918.3,yDom:[-29.8,670.6],ticks:[0,200,400,600],
  stats:statsN,pts:[ptsN_normal,ptsN_tumor],colors:NTcol,bw:0.7,jw:[0.34,0.35],r:[1.6,1.4],catY:924.3,yTitleX:57.3,
  brColor:"#999",brSize:6,brackets:[{a:0,b:1,v:646,label:"p < 2.22e-16"}]});
legend(pN.g,{cx:163.5,y:770.7,title:"Type",labels:catsNT,colors:NTcol,size:5.4});
const pO=boxPanel({cats:catsNT,x0:326.7,x1:494.6,yTop:786.7,yBot:918.3,yDom:[11.830,13.859],ticks:[12,12.5,13,13.5],fmt:d3.format(".1f"),
  stats:statsO,pts:[ptsO_normal,ptsO_tumor],colors:NTcol,bw:0.7,jw:0.27,r:1.4,catY:924.3,yTitleX:305,
  brColor:"#999",brSize:6,brackets:[{a:0,b:1,v:13.795,label:"2.7e-10"}]});
legend(pO.g,{cx:410.6,y:770.7,title:"Type",labels:catsNT,colors:NTcol,size:5.4});
// ---------- P ----------
rocBase({id:"P",bx0:579,bx1:730.6,by0:770.7,by1:911,px0:589.3,px1:719.4,py0:907.7,py1:778.5,
  diagColor:"#aaa",diagW:0.6,boxColor:"#444",curveW:1.3,
  curves:[{fpr:rocP_fpr,tpr:rocP_tpr,color:"#ee3a3a"}],
  xLabY:922.3,yLabX:566,xTitle:["1 \u2212 Specificity",655,936.7],yTitle:[556,841.7],title:["Model",655,762.7],
  auc:{text:rocP_text,x:0.6,y:[0.49,0.44],color:"#ee3a3a"}});
// ---------- Q ----------
kmPanel({x0:77.5,x1:247.5,tDom:[-1,21],yTop:963,yBot:1102,xticks:kmTicks20,medians:kmQ_medians,
  groups:[{t:kmQ_high_t,s:kmQ_high_s,c:kmQ_high_c,color:RED},{t:kmQ_low_t,s:kmQ_low_s,c:kmQ_low_c,color:BLUE}],
  xTitleY:1115,yTitleX:58.7,pX:87.8,pY:1071,pText:"p<0.001",legY:950});
// ---------- R ----------
rocBase({id:"R",bx0:576.5,bx1:730.6,by0:963.3,by1:1091,px0:585.7,px1:723.5,py0:1085.7,py1:967.3,
  diagColor:"#333",diagW:0.7,diagDash:"1.6,1.6",boxColor:"#000",
  curves:rocR_fpr.map((f,i)=>({fpr:f,tpr:rocR_tpr[i],color:rocColors[i]})),
  xLabY:1101.7,yLabX:565,xTitle:["1-Specificity",705,1118.3],yTitle:[552,1031],
  legend:{labels:rocR_labels,y0:1049.3,dy:8,lx0:644,lx1:658,tx:663}});

// ---------- panel letters ----------
label("A",0,20,22); label("B",200,20,22); label("C",400,20,22); label("D",600,20,22);
label("E",0,208); label("F",199,208); label("G",385,202); label("H",603,191);
label("I",53,398); label("J",297,402); label("K",548,398);
label("L",52,578); label("M",543,577);
label("N",50,762); label("O",301,762); label("P",548,760);
label("Q",51,952); label("R",548,952);
</script></body></html>
